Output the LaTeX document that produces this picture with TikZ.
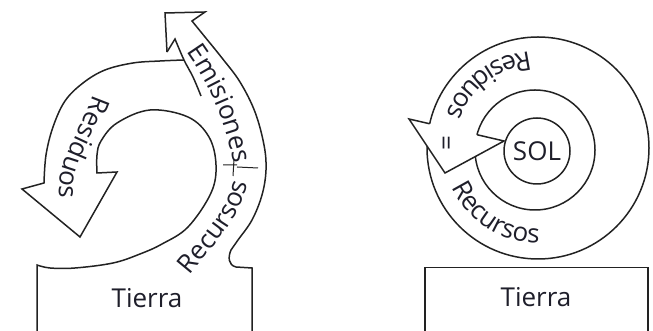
\documentclass[tikz,border=0pt]{standalone}
\usepackage{fontspec}
\setmainfont{Open Sans}
\usetikzlibrary{decorations.text,intersections}
\definecolor{ln}{HTML}{222222}
\definecolor{txt}{HTML}{1E1E2A}
\newcommand\tfnt{\fontsize{26pt}{30pt}\selectfont}
\begin{document}
\begin{tikzpicture}[x=1pt,y=1pt,
  shapeline/.style={line width=1.5pt, draw=ln, line join=miter},
  thinline/.style={line width=1pt, draw=ln},
  lbl/.style={text=txt, font=\tfnt, inner sep=0pt},
  curvetext/.style={decorate, decoration={text along path, text align=center, text color=txt, text={|\tfnt|#1}}}]
\useasboundingbox (0,0) rectangle (653,331);
\clip (0,0) rectangle (653,331);

% ---------------- left figure ----------------
% outer edge: Emisiones arrowhead + right side down to the Tierra box
\draw[shapeline] (167,279) -- (165,318) -- (205,319) -- (192,310)
  -- plot[smooth,tension=0.6] coordinates {(192,310) (205,294) (222,273) (240,249) (255,219) (264,186) (266,161) (262,136) (252,111) (238,91) (231,81)}
  .. controls (228,74) and (228,66) .. (236,64) -- (252,63) -- (252,-5);
% left edge of the Emisiones arrow (free end)
\draw[shapeline] (167,279) -- (175,292)
  -- plot[smooth,tension=0.6] coordinates {(175,292) (184,271) (193,254) (201,235)};
% Residuos arrow: outer edge, arrowhead, inner edge down to the box
\draw[shapeline]
  plot[smooth,tension=0.6] coordinates {(184,271) (160,270) (133,268) (105,261) (83,248) (65,230) (53,204) (46,176) (44,148)}
  -- (22,142) -- (80,94) -- (117,159) -- (97,158)
  -- plot[smooth,tension=0.6] coordinates {(97,158) (97,176) (101,190) (117,208) (150,221) (188,214) (209,194) (216,166) (211,138) (188,104) (162,87) (140,77) (113,68) (75,63) (50,63) (37,66)}
  -- (37,-5);
% small divider mark
\draw[thinline] (223,166) -- (237,166) (237,164) -- (258,163) (234,172) -- (233,155);

% labels left
\path[curvetext=Emisiones] (188,277) .. controls (211,244) and (227,205) .. (233,171);
\path[curvetext=Recursos] (192,59) .. controls (214,86) and (238,110) .. (247,144);
\path[curvetext=Residuos] (92,233) .. controls (80,200) and (59,172) .. (59,137);
\node[lbl, anchor=base] (tierraL) at (147,23) {Tierra};

% ---------------- right figure ----------------
\draw[shapeline, name path=outer] (538,183) circle[radius=111pt];
\draw[shapeline, name path=middle] (535,181) circle[radius=60pt];
\path[name path=base] (409,212) -- (504,190);
\path[name intersections={of=base and outer, by=I1}];
\path[name intersections={of=base and middle, by=I2}];
\fill[white] (409,212) -- (445,158) -- (504,190) -- cycle;
\draw[shapeline] (I1) -- (409,212) -- (445,158) -- (504,190) -- (I2);
\draw[shapeline] (537,180) circle[radius=33pt];
\node[lbl] (sol) at (537,180) {SOL};
\node[lbl, rotate=90] (eq) at (449,188) {=};
\path[curvetext=Residuos] (538,183) ++(60:97pt) arc[start angle=60, end angle=195, radius=97pt];
\path[curvetext=Recursos] (538,183) ++(170:95pt) arc[start angle=170, end angle=305, radius=95pt];
\draw[shapeline] (425,-5) -- (425,63.5) -- (648,63.5) -- (648,-5);
\node[lbl, anchor=base] (tierraR) at (536,24) {Tierra};
\end{tikzpicture}
\end{document}
